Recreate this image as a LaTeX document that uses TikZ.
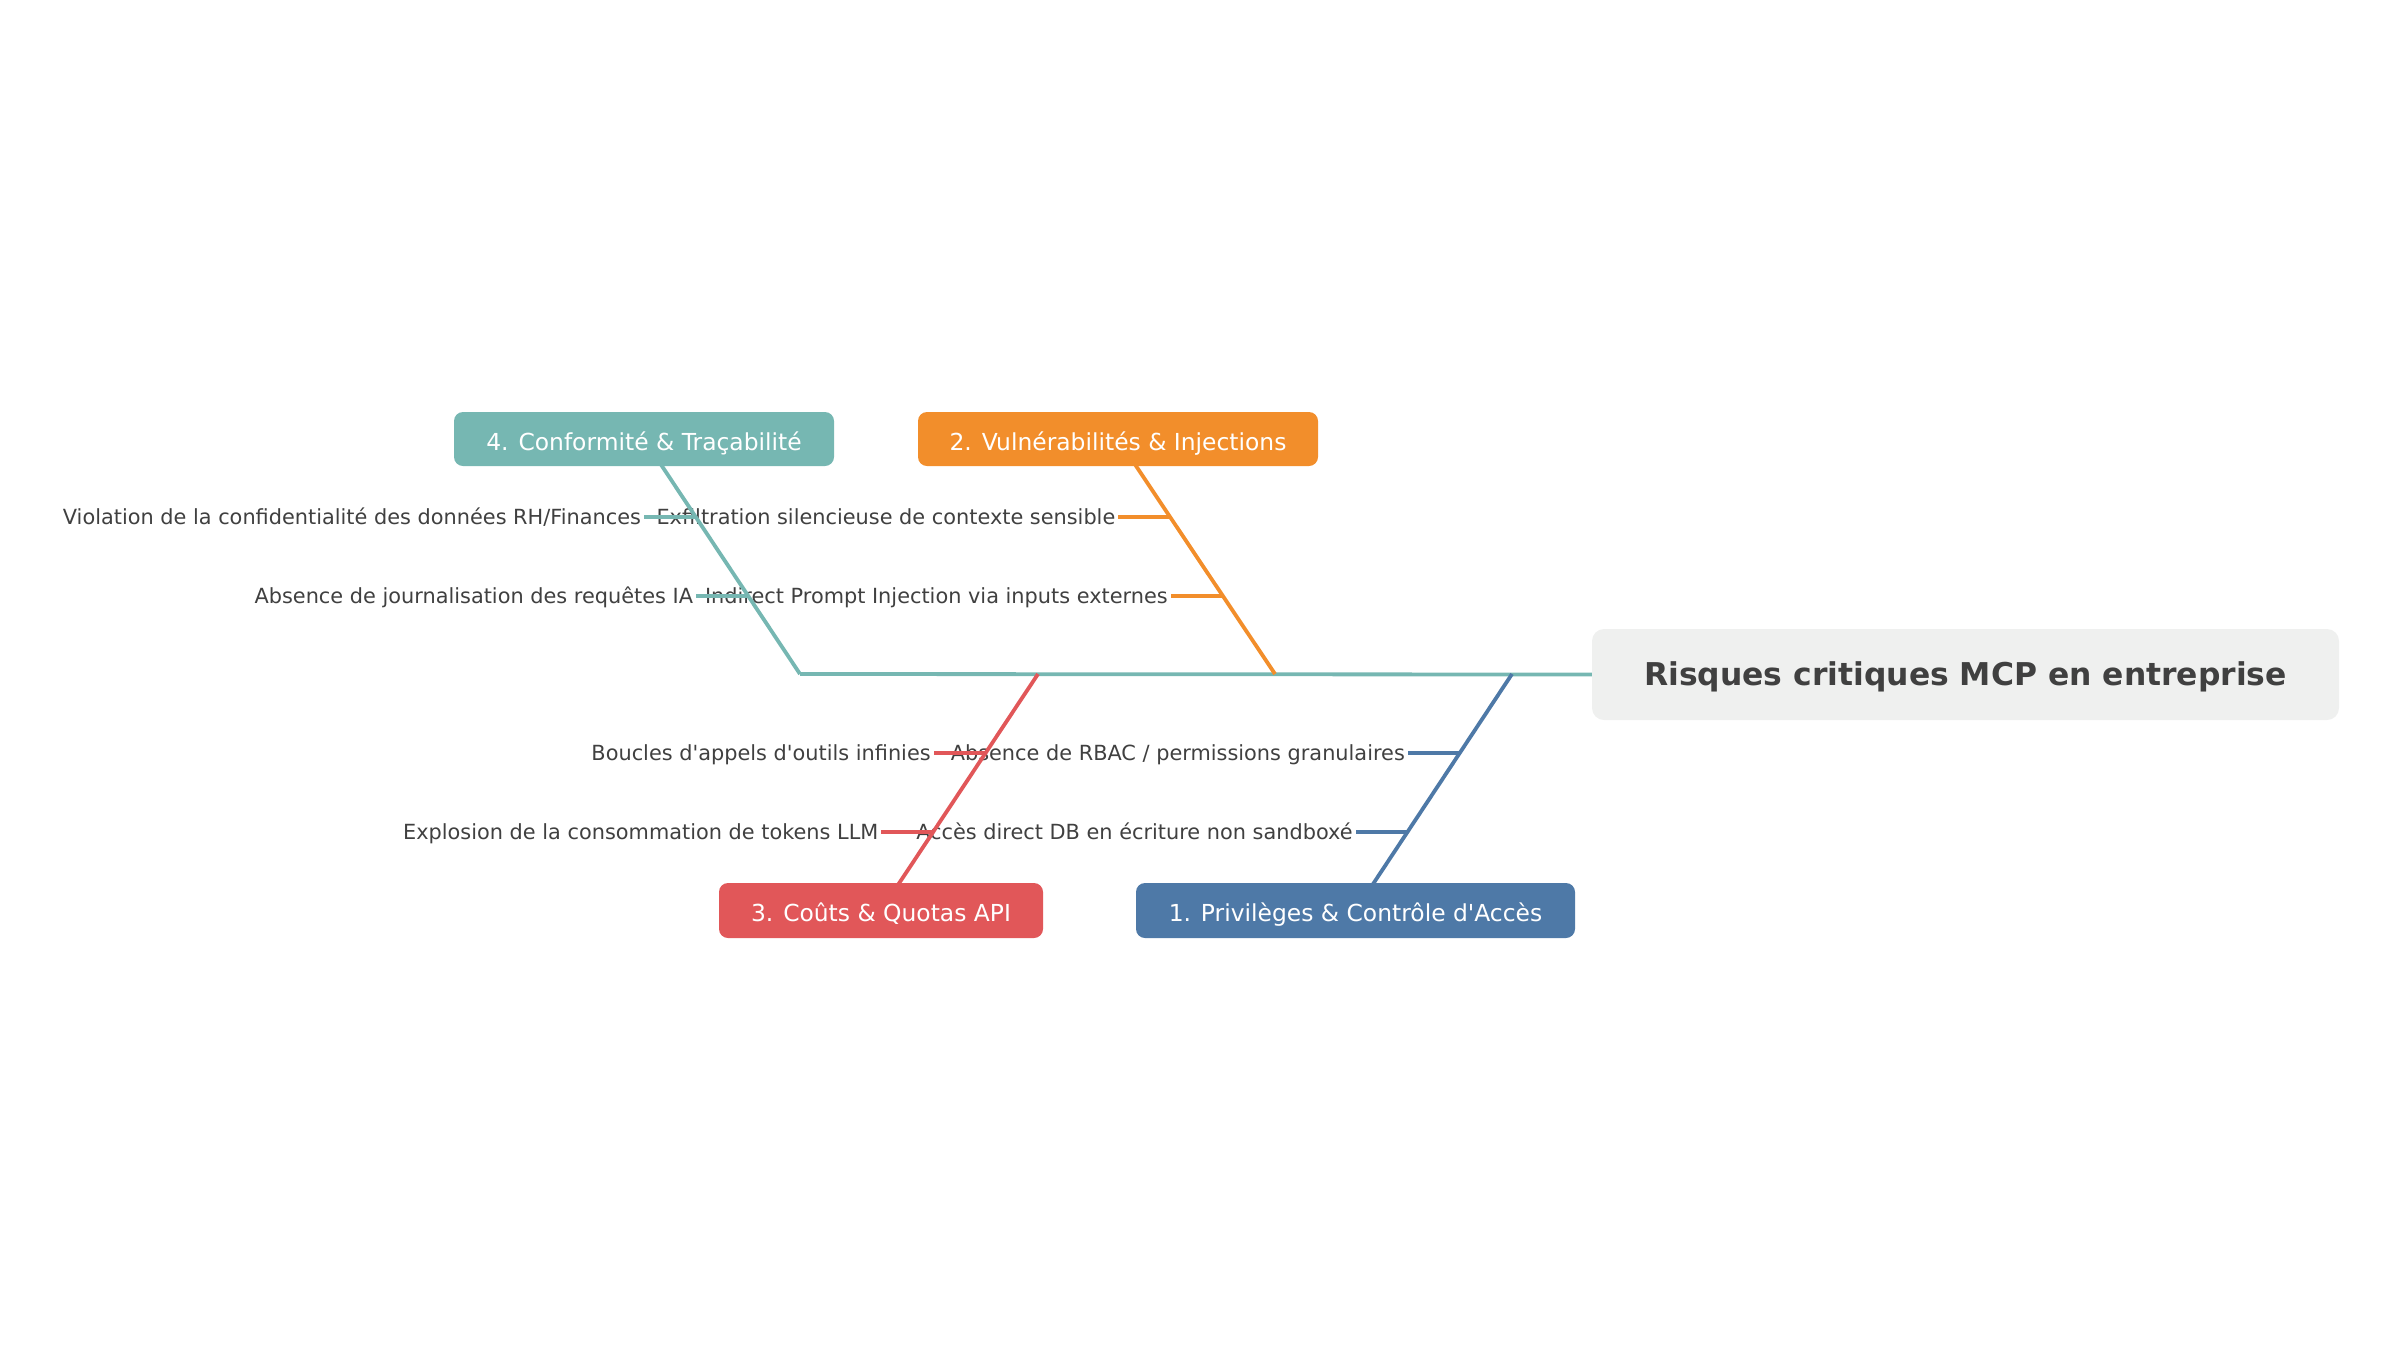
\documentclass[tikz,border=0pt]{standalone}
\usepackage{fontspec}
\setmainfont{DejaVu Sans}[Ligatures=TeXOff]
\usetikzlibrary{calc}
\pgfdeclarelayer{lines}
\pgfdeclarelayer{top}
\pgfsetlayers{main,lines,top}
\definecolor{cteal}{RGB}{118,183,178}
\definecolor{corange}{RGB}{242,142,43}
\definecolor{cred}{RGB}{225,87,89}
\definecolor{cblue}{RGB}{78,121,167}
\definecolor{ctext}{RGB}{64,64,64}
\definecolor{chead}{RGB}{239,240,239}
\begin{document}
\begin{tikzpicture}[x=1pt,y=-1pt,
  catbox/.style={rectangle, rounded corners=9pt, minimum height=54pt, inner sep=0pt, outer sep=0pt,
    text=white, font=\fontsize{23.4}{28}\selectfont, text height=22.4pt, text depth=0pt},
  headbox/.style={rectangle, rounded corners=12pt, fill=chead, minimum width=747pt, minimum height=91pt,
    inner sep=0pt, outer sep=0pt, text=ctext, font=\fontsize{31.4}{38}\selectfont\bfseries,
    text height=22.9pt, text depth=0pt},
  lab/.style={anchor=east, inner sep=0pt, outer sep=0pt, text=ctext,
    font=\fontsize{20.85}{25}\selectfont, text height=15.2pt, text depth=0pt},
  bone/.style={line width=3.8pt, line cap=butt},
  tick/.style={line width=4pt, line cap=butt, shorten >=3pt}]
\useasboundingbox (0,0) rectangle (2400,1350);

% boxes (top layer)
\begin{pgfonlayer}{top}
\node[headbox] (head) at (1965.5,674.5) {Risques critiques MCP en entreprise};
\node[catbox, fill=cteal, minimum width=380pt] (b4) at (644,439) {4. Conformité \& Traçabilité};
\node[catbox, fill=corange, minimum width=400pt] (b2) at (1118,439) {2. Vulnérabilités \& Injections};
\node[catbox, fill=cred, minimum width=324pt, minimum height=55pt] (b3) at (881,910.5) {3. Coûts \& Quotas API};
\node[catbox, fill=cblue, minimum width=439pt, minimum height=55pt] (b1) at (1355.5,910.5) {1. Privilèges \& Contrôle d'Accès};
\end{pgfonlayer}

% spine points
\coordinate (s4) at (800,674);
\coordinate (s3) at (1038,674);
\coordinate (s2) at (1275,674);
\coordinate (s1) at (1512,674);

% tick points on the bones
\coordinate (t4a) at ($(s4)!2/3!(b4.center)$);
\coordinate (t4b) at ($(s4)!1/3!(b4.center)$);
\coordinate (t2a) at ($(s2)!2/3!(b2.center)$);
\coordinate (t2b) at ($(s2)!1/3!(b2.center)$);
\coordinate (t3a) at ($(s3)!1/3!(b3.center)$);
\coordinate (t3b) at ($(s3)!2/3!(b3.center)$);
\coordinate (t1a) at ($(s1)!1/3!(b1.center)$);
\coordinate (t1b) at ($(s1)!2/3!(b1.center)$);

% labels
\node[lab] (l4a) at ($(t4a)+(-55,0)$) {Violation de la confidentialité des données RH/Finances};
\node[lab] (l4b) at ($(t4b)+(-55,0)$) {Absence de journalisation des requêtes IA};
\node[lab] (l2a) at ($(t2a)+(-55,0)$) {Exfiltration silencieuse de contexte sensible};
\node[lab] (l2b) at ($(t2b)+(-55,0)$) {Indirect Prompt Injection via inputs externes};
\node[lab] (l3a) at ($(t3a)+(-55,0)$) {Boucles d'appels d'outils infinies};
\node[lab] (l3b) at ($(t3b)+(-55,0)$) {Explosion de la consommation de tokens LLM};
\node[lab] (l1a) at ($(t1a)+(-55,0)$) {Absence de RBAC / permissions granulaires};
\node[lab] (l1b) at ($(t1b)+(-55,0)$) {Accès direct DB en écriture non sandboxé};

% lines (over labels, under boxes)
\begin{pgfonlayer}{lines}
\draw[bone, cteal] (s4) -- (head.west);
\draw[bone, cteal] (s4) -- (b4.center);
\draw[bone, corange] (s2) -- (b2.center);
\draw[bone, cred] (s3) -- (b3.center);
\draw[bone, cblue] (s1) -- (b1.center);
\draw[tick, cteal] (t4a) -- (l4a);
\draw[tick, cteal] (t4b) -- (l4b);
\draw[tick, corange] (t2a) -- (l2a);
\draw[tick, corange] (t2b) -- (l2b);
\draw[tick, cred] (t3a) -- (l3a);
\draw[tick, cred] (t3b) -- (l3b);
\draw[tick, cblue] (t1a) -- (l1a);
\draw[tick, cblue] (t1b) -- (l1b);
\end{pgfonlayer}
\end{tikzpicture}
\end{document}
